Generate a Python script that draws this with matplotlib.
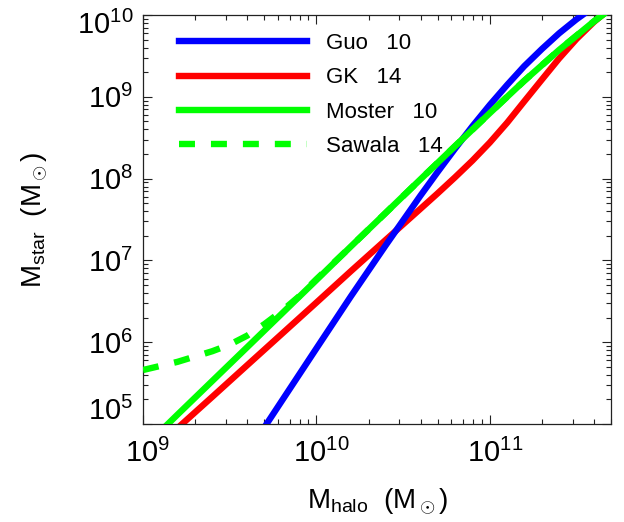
import matplotlib
matplotlib.use('Agg')
import matplotlib.pyplot as plt
import matplotlib.transforms as mtransforms
from matplotlib.ticker import LogLocator, NullFormatter

plt.rcParams['font.family'] = ['Liberation Sans', 'DejaVu Sans']
plt.rcParams['mathtext.fontset'] = 'custom'
plt.rcParams['mathtext.rm'] = 'Liberation Sans'
plt.rcParams['mathtext.it'] = 'Liberation Sans:italic'
plt.rcParams['mathtext.bf'] = 'Liberation Sans:bold'

# ---- data (halo mass, stellar mass) ----
mhalo_guo = [3.98e9, 6.31e9, 1.00e10, 1.58e10, 2.51e10, 3.98e10, 5.01e10, 6.31e10,
             7.94e10, 1.00e11, 1.26e11, 1.58e11, 2.00e11, 2.51e11, 3.16e11, 3.98e11]
mstar_guo = [4.33e4, 1.91e5, 8.39e5, 3.63e6, 1.53e7, 6.18e7, 1.21e8, 2.33e8,
             4.37e8, 7.96e8, 1.40e9, 2.37e9, 3.85e9, 5.97e9, 8.85e9, 1.26e10]

mhalo_gk = [1.00e9, 1.58e9, 2.51e9, 3.98e9, 6.31e9, 1.00e10, 1.58e10, 2.51e10, 3.98e10,
            5.01e10, 6.31e10, 7.94e10, 1.00e11, 1.26e11, 1.58e11, 2.00e11, 2.51e11,
            3.16e11, 3.98e11, 5.01e11]
mstar_gk = [3.67e4, 8.89e4, 2.15e5, 5.21e5, 1.26e6, 3.05e6, 7.38e6, 1.78e7, 4.27e7,
            6.62e7, 1.04e8, 1.66e8, 2.76e8, 4.83e8, 8.79e8, 1.63e9, 2.94e9,
            5.08e9, 8.20e9, 1.23e10]

mhalo_moster = [1.00e9, 1.58e9, 2.51e9, 3.98e9, 6.31e9, 1.00e10, 1.58e10, 2.51e10,
                3.98e10, 6.31e10, 1.00e11, 1.58e11, 2.51e11, 3.98e11, 5.01e11]
mstar_moster = [5.05e4, 1.30e5, 3.36e5, 8.65e5, 2.23e6, 5.75e6, 1.48e7, 3.81e7,
                9.79e7, 2.50e8, 6.32e8, 1.57e9, 3.74e9, 8.34e9, 1.20e10]

mhalo_sawala = [1.00e9, 1.58e9, 2.51e9, 3.16e9, 3.98e9, 5.01e9, 6.31e9, 7.94e9, 1.00e10,
                1.58e10, 2.51e10, 3.98e10, 6.31e10, 1.00e11, 1.58e11, 2.51e11, 3.98e11, 5.01e11]
mstar_sawala = [4.57e5, 5.75e5, 7.76e5, 9.33e5, 1.20e6, 1.66e6, 2.40e6, 3.63e6, 5.89e6,
                1.48e7, 3.81e7, 9.79e7, 2.50e8, 6.32e8, 1.57e9, 3.74e9, 8.34e9, 1.20e10]

labels = ['Guo   10', 'GK   14', 'Moster   10', 'Sawala   14']
colors = ['#0000ff', '#ff0000', '#00ff00', '#00ff00']

fig = plt.figure(figsize=(6.24, 5.22), dpi=100)
ax = fig.add_axes([143/624, 1 - 424/522, 468/624, 409/522])
ax.set_xscale('log')
ax.set_yscale('log')

lw = 4.6
l_gk, = ax.plot(mhalo_gk, mstar_gk, color=colors[1], lw=lw, zorder=2)
l_guo, = ax.plot(mhalo_guo, mstar_guo, color=colors[0], lw=lw, zorder=3)
l_mo, = ax.plot(mhalo_moster, mstar_moster, color=colors[2], lw=lw, zorder=4)
l_sa, = ax.plot(mhalo_sawala, mstar_sawala, color=colors[3], lw=lw, zorder=4,
                linestyle=(0, (2.5, 2.5)), dash_capstyle='butt')

ax.set_xlim(1e9, 5e11)
ax.set_ylim(1e5, 1e10)

for sp in ax.spines.values():
    sp.set_linewidth(0.9)
    sp.set_color('#222222')

ax.xaxis.set_major_locator(LogLocator(base=10))
ax.yaxis.set_major_locator(LogLocator(base=10))
ax.xaxis.set_minor_locator(LogLocator(base=10, subs=range(2, 10)))
ax.yaxis.set_minor_locator(LogLocator(base=10, subs=range(2, 10)))
ax.xaxis.set_minor_formatter(NullFormatter())
ax.yaxis.set_minor_formatter(NullFormatter())

ax.tick_params(which='both', direction='in', top=True, right=True,
               color='#222222', width=0.8)
ax.tick_params(which='major', length=6.5, labelsize=21)
ax.tick_params(which='minor', length=3.6)
ax.tick_params(axis='x', which='major', pad=11)
ax.tick_params(axis='y', which='major', pad=7)

ax.set_xlabel(r'M$_{\rm halo}$  (M$_\odot$)', fontsize=20, labelpad=13)
ax.set_ylabel(r'M$_{\rm star}$  (M$_\odot$)', fontsize=20, labelpad=19)

leg = ax.legend([l_guo, l_gk, l_mo, l_sa], labels, loc='upper left',
                bbox_to_anchor=(0.0769, 0.956), frameon=False, fontsize=16,
                handlelength=5.76, handletextpad=0.86, labelspacing=0.60,
                borderpad=0, borderaxespad=0)

fig.canvas.draw()
for t in ax.xaxis.get_major_ticks():
    lab = t.label1
    lab.set_transform(lab.get_transform() +
                      mtransforms.ScaledTranslation(5/100, 0, fig.dpi_scale_trans))
for t in ax.yaxis.get_major_ticks():
    loc = t.get_loc()
    lab = t.label1
    if abs(loc - 1e10) / 1e10 < 1e-6:
        lab.set_transform(lab.get_transform() +
                          mtransforms.ScaledTranslation(0, -7/100, fig.dpi_scale_trans))
    elif abs(loc - 1e5) / 1e5 < 1e-6:
        lab.set_transform(lab.get_transform() +
                          mtransforms.ScaledTranslation(0, 16/100, fig.dpi_scale_trans))

fig.savefig('out.png', dpi=100)
